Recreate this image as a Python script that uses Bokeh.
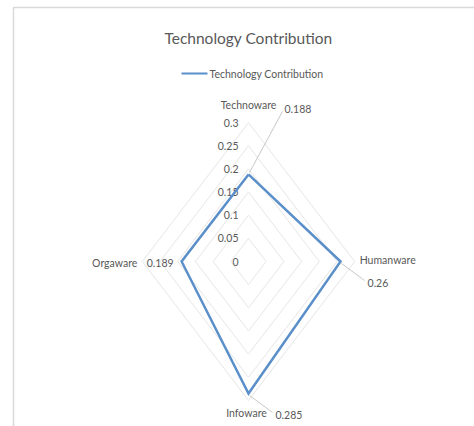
import numpy as np
from bokeh.plotting import figure
from bokeh.models import Range1d
from bokeh.core.properties import value
from bokeh.embed import file_html
from bokeh.resources import INLINE

# ---- data ----
categories = ["Technoware", "Humanware", "Infoware", "Orgaware"]
values = [0.188, 0.26, 0.285, 0.189]
value_labels = ["0.188", "0.26", "0.285", "0.189"]
ticks = [0, 0.05, 0.1, 0.15, 0.2, 0.25, 0.3]
tick_labels = ["0", "0.05", "0.1", "0.15", "0.2", "0.25", "0.3"]
title_text = "Technology Contribution"
series_name = "Technology Contribution"

# ---- layout (pixels) ----
W, H = 474, 426
CX, CY = 248, 261          # centre of radar in px
SX, SY = 354.0, 463.0      # px per unit value horizontally / vertically
FONT = "Lato"
TXT = "#595959"
BLUE = "#5b8fc9"
GRID = "#e6e6e6"

def px(x):
    return (x - CX) / SX

def py(y):
    return (CY - y) / SY

p = figure(width=W, height=H, output_backend="svg", toolbar_location=None,
           x_axis_type=None, y_axis_type=None, min_border=0,
           x_range=Range1d(px(0), px(W)), y_range=Range1d(py(H), py(0)))
p.grid.visible = False
p.outline_line_color = None
p.background_fill_color = "white"
p.border_fill_color = "white"

n = len(categories)
theta = np.arange(n) * 2 * np.pi / n
ux, uy = np.sin(theta), np.cos(theta)

# chart frame
p.line([px(13), px(13), px(480)], [py(440), py(7), py(7)], line_color="#d9d9d9", line_width=1.5)

# grid diamonds
for t in ticks[1:]:
    xs = list(t * ux) + [t * ux[0]]
    ys = list(t * uy) + [t * uy[0]]
    p.line(xs, ys, line_color=GRID, line_width=1)

# tick labels along top spoke
p.text(x=[0] * len(ticks), y=list(ticks), text=tick_labels, x_offset=-10,
       text_align="right", text_baseline="middle", text_font=value(FONT),
       text_font_size="10.5px", text_color=TXT)

# series polygon
v = np.array(values)
sx_ = list(v * ux) + [v[0] * ux[0]]
sy_ = list(v * uy) + [v[0] * uy[0]]
p.line(sx_, sy_, line_color=BLUE, line_width=2.5, line_join="miter")

# category labels placed beyond outer ring
rmax = ticks[-1]
cat_off = [(0, -18, "center"), (5, -2, "left"), (-2, 13, "center"), (-5, 1, "right")]
for i, c in enumerate(categories):
    dx, dy, al = cat_off[i]
    p.text(x=[rmax * ux[i]], y=[rmax * uy[i]], text=[c], x_offset=dx, y_offset=dy,
           text_align=al, text_baseline="middle", text_font=value(FONT),
           text_font_size="10.5px", text_color=TXT)

# data labels with leader lines
lab_off = [(36, -65, "left"), (27, 21, "left"), (27, 22, "left"), (-8, 1, "right")]
lead = [((1, -2), (34, -63)), ((1, 2), (24, 19)), ((1, 2), (24, 19)), None]
for i, lab in enumerate(value_labels):
    vx, vy = values[i] * ux[i], values[i] * uy[i]
    dx, dy, al = lab_off[i]
    p.text(x=[vx], y=[vy], text=[lab], x_offset=dx, y_offset=dy,
           text_align=al, text_baseline="middle", text_font=value(FONT),
           text_font_size="10.5px", text_color=TXT)
    if lead[i] is not None:
        (a0, b0), (a1, b1) = lead[i]
        p.segment(x0=[vx + a0 / SX], y0=[vy - b0 / SY], x1=[vx + a1 / SX], y1=[vy - b1 / SY],
                  line_color="#c8c8c8", line_width=1)

# title
p.text(x=[px(248)], y=[py(37)], text=[title_text], text_align="center",
       text_baseline="middle", text_font=value(FONT), text_font_size="15.5px",
       text_color=TXT)

# legend
p.line([px(181), px(207)], [py(73), py(73)], line_color=BLUE, line_width=2)
p.text(x=[px(209)], y=[py(73)], text=[series_name], text_align="left",
       text_baseline="middle", text_font=value(FONT), text_font_size="10.5px",
       text_color=TXT)

open("out.html", "w").write(file_html(p, INLINE))
